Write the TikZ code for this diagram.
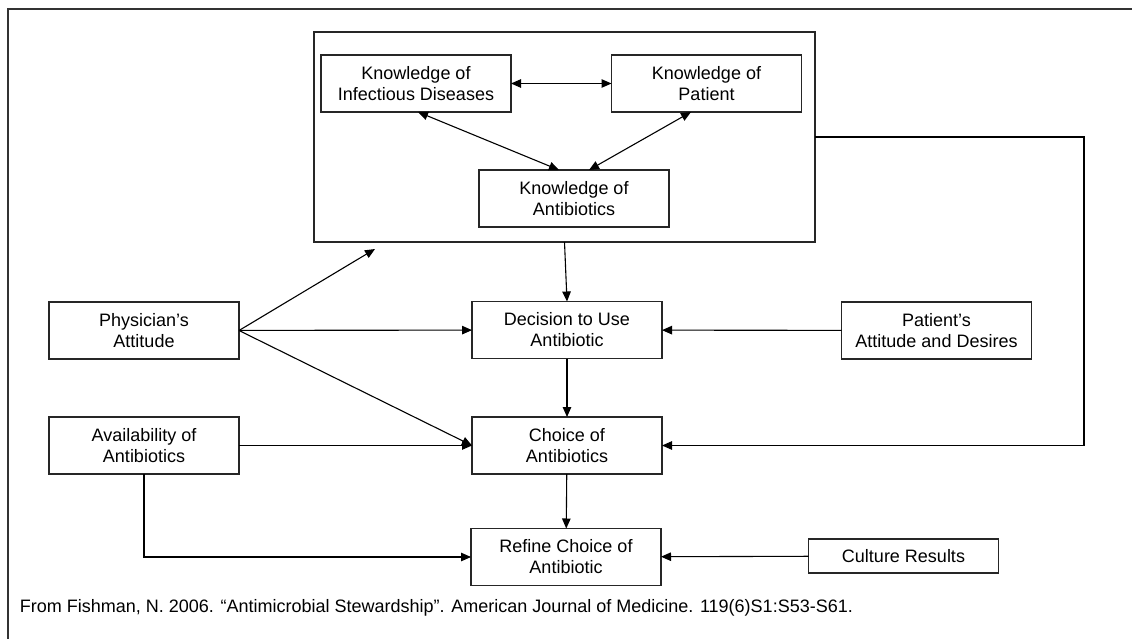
\documentclass[tikz,border=0pt]{standalone}
\usepackage{fontspec}
\setmainfont{Liberation Sans}
\usetikzlibrary{arrows.meta}
\begin{document}
\begin{tikzpicture}[x=1pt,y=-1pt,
    box/.style={draw=black!85,line width=1.2pt,inner sep=0pt,outer sep=0pt,
        minimum width=190pt,minimum height=57pt,align=center,
        font=\fontsize{18}{21}\selectfont},
    every path/.style={line width=1.1pt},
    >={Triangle[length=10pt,width=8.5pt]}]
    \useasboundingbox (0,0) rectangle (1132,639);
    % outer frame
    \draw[line width=1.4pt,black!80] (8,639) -- (8,9) -- (1132,9);

    \node (K) [box,minimum width=501pt,minimum height=210pt] at (564.5,137) {};
    \node (KID) [box] at (416,83.5) {Knowledge of\\Infectious Diseases};
    \node (KP) [box] at (706.5,83.5) {Knowledge of\\Patient};
    \node (KA) [box] at (574,198.5) {Knowledge of\\Antibiotics};

    \node (PA) [box] at (144,330.5) {Physician’s\\Attitude};
    \node (D) [box] at (567,330) {Decision to Use\\Antibiotic};
    \node (PT) [box] at (936.5,330.5) {Patient’s\\Attitude and Desires};
    \node (AV) [box] at (144,445.5) {Availability of\\Antibiotics};
    \node (C) [box] at (567,445.5) {Choice of\\Antibiotics};
    \node (R) [box] at (566,557) {Refine Choice of\\Antibiotic};
    \node (CR) [box,minimum height=34pt] at (903.5,556) {Culture Results};

    \node (src) [anchor=west,font=\fontsize{18}{21}\selectfont] at (16,608)
        {From Fishman, N. 2006. “Antimicrobial Stewardship”. American Journal of Medicine. 119(6)S1:S53-S61.};

    \coordinate (kin) at (375,249);
    \coordinate (rt) at (1084,137);

    \draw [<->] (KID) -- (KP);
    \draw [<->] ([xshift=2pt]KID.south) -- ([xshift=-15pt]KA.north);
    \draw [<->] ([xshift=-15.5pt]KP.south) -- ([xshift=15pt]KA.north);

    \draw [->] (K.south) -- (D.north);
    \draw [->] (D) -- (C);
    \draw [->] (C) -- (R);
    \draw [->] (PT) -- (D);
    \draw [->] (CR) -- (R);

    \draw [->] (PA.east) -- (kin);
    \draw [->] (PA) -- (D);
    \draw [->] (PA.east) -- (C.west);
    \draw [->] (AV) -- (C);
    \draw [->] (AV.south) |- (R.west);
    \draw [->] (K.east) -- (rt) |- (C.east);
\end{tikzpicture}
\end{document}
